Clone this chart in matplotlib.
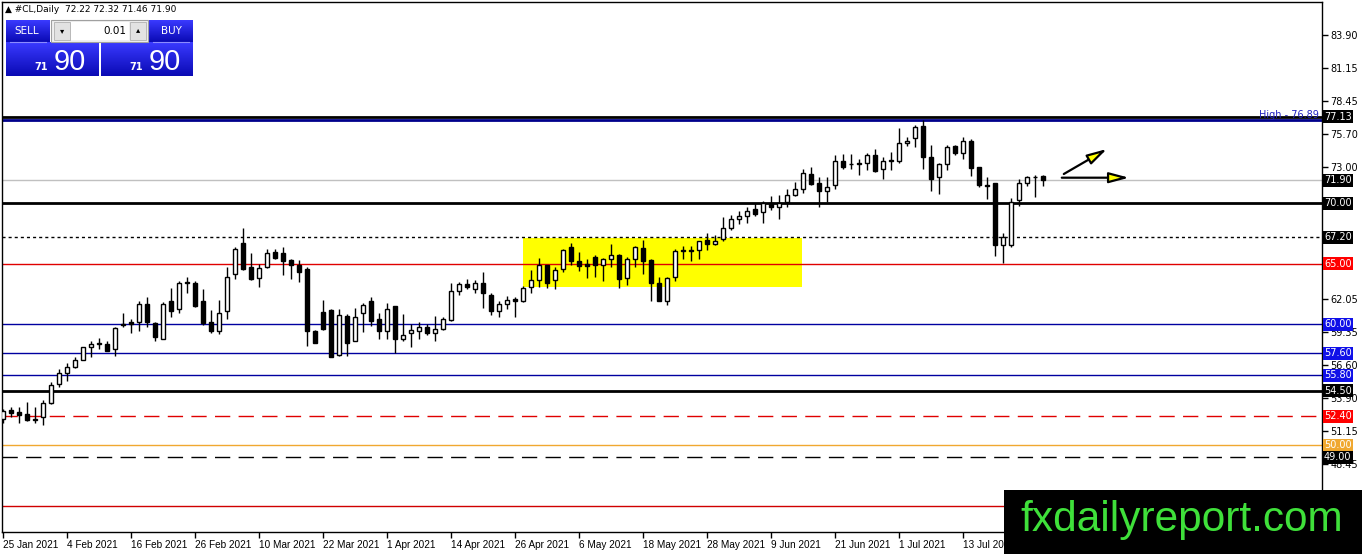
import numpy as np
import matplotlib.pyplot as plt
from matplotlib.patches import Rectangle, FancyArrowPatch

# daily OHLC of #CL, 25 Jan 2021 .. late Jul 2021
opens = [52.15, 52.9, 52.75, 52.6, 52.1, 52.35, 53.46, 55.05, 55.94, 56.43,
         57.04, 58.09, 58.4, 58.36, 57.92, 60.05, 60.2, 60.18, 61.67, 60.07,
         58.8, 61.89, 61.23, 63.5, 63.43, 61.89, 60.18, 59.46, 61.06, 64.15,
         66.68, 64.7, 63.79, 64.7, 65.96, 65.85, 65.3, 64.92, 64.58, 59.46,
         61.0, 61.17, 57.48, 60.67, 58.58, 60.89, 61.88, 60.4, 59.46, 61.5,
         58.75, 59.24, 59.46, 59.74, 59.3, 59.57, 60.34, 62.77, 63.32, 62.93,
         63.43, 62.38, 61.06, 61.66, 62.1, 61.95, 63.05, 63.65, 64.87, 63.65,
         64.54, 66.36, 65.2, 64.98, 65.53, 64.87, 65.42, 65.69, 63.82, 65.42,
         66.3, 65.31, 63.38, 61.89, 63.88, 66.05, 66.13, 66.13, 66.96, 66.6,
         67.02, 67.95, 68.72, 68.94, 69.5, 69.27, 70.04, 69.71, 70.1, 70.65,
         71.14, 72.41, 71.64, 71.03, 71.53, 73.46, 73.24, 73.3, 73.29, 74.0,
         72.8, 73.5, 73.46, 75.0, 75.39, 76.38, 73.79, 72.14, 73.24, 74.72,
         74.12, 75.11, 72.96, 71.47, 71.64, 66.57, 66.52, 70.26, 71.69, 72.19,
         72.22]
highs = [53.0, 53.2, 53.2, 53.57, 53.2, 53.73, 55.2, 56.27, 56.76, 57.3,
         58.14, 58.58, 58.86, 58.64, 59.74, 60.9, 60.4, 61.89, 62.27, 60.18,
         61.83, 62.99, 63.54, 63.87, 63.6, 62.88, 61.17, 62.0, 64.75, 66.35,
         67.95, 65.91, 65.0, 66.18, 66.18, 66.35, 65.41, 65.3, 64.7, 59.52,
         62.0, 61.28, 61.28, 60.84, 61.34, 61.77, 62.27, 60.95, 61.72, 61.5,
         60.84, 60.01, 60.18, 60.01, 60.67, 60.56, 63.43, 63.48, 63.76, 63.65,
         64.31, 62.55, 61.94, 62.33, 62.27, 63.16, 64.48, 65.47, 64.9, 64.7,
         66.25, 66.74, 65.97, 65.36, 65.69, 65.47, 66.63, 65.8, 65.53, 66.47,
         66.96, 65.36, 63.88, 63.9, 66.19, 66.47, 66.47, 66.9, 67.51, 67.35,
         68.83, 69.05, 69.33, 69.66, 70.0, 70.21, 70.59, 70.65, 71.2, 71.75,
         72.8, 73.02, 72.19, 72.14, 73.95, 74.06, 74.06, 73.62, 74.17, 74.45,
         73.84, 74.23, 76.21, 75.44, 76.43, 76.89, 74.83, 73.3, 74.78, 74.78,
         75.44, 75.33, 73.02, 72.19, 71.69, 67.56, 70.43, 71.97, 72.25, 72.3,
         72.32]
lows = [51.8, 52.3, 51.8, 52.0, 51.85, 51.64, 53.4, 54.78, 55.27, 56.38,
        57.04, 57.3, 57.98, 57.76, 57.37, 59.8, 59.3, 59.41, 59.74, 58.58,
        58.75, 60.62, 60.9, 62.6, 61.39, 59.9, 59.3, 59.19, 60.45, 63.76,
        64.48, 63.65, 63.1, 64.64, 65.41, 64.09, 63.76, 63.48, 58.19, 58.41,
        59.52, 57.26, 57.37, 57.37, 58.58, 59.35, 59.85, 58.8, 58.8, 57.59,
        58.58, 58.08, 58.75, 59.07, 58.58, 59.52, 60.29, 62.44, 62.93, 62.55,
        61.33, 60.73, 60.56, 61.28, 60.63, 61.84, 62.61, 63.05, 62.99, 62.88,
        64.32, 64.87, 64.43, 63.82, 63.93, 63.6, 64.76, 62.99, 63.27, 64.7,
        64.15, 61.95, 61.89, 61.56, 63.6, 65.36, 65.2, 65.42, 66.13, 66.52,
        66.85, 67.79, 68.28, 68.34, 68.94, 68.39, 69.44, 68.66, 69.66, 70.59,
        70.81, 71.47, 69.71, 70.1, 71.14, 72.8, 72.85, 72.3, 72.74, 72.58,
        71.97, 72.74, 73.35, 74.72, 74.67, 72.85, 71.03, 70.76, 72.74, 74.01,
        73.62, 72.25, 71.36, 70.37, 65.63, 65.08, 66.41, 69.77, 71.42, 70.48,
        71.46]
closes = [52.85, 52.7, 52.5, 52.1, 52.15, 53.46, 54.95, 55.94, 56.49, 57.04,
          58.09, 58.36, 58.42, 57.81, 59.68, 59.9, 60.05, 61.67, 60.18, 58.91,
          61.67, 61.12, 63.43, 63.4, 61.5, 60.12, 59.41, 60.95, 63.93, 66.19,
          64.59, 63.76, 64.64, 65.85, 65.47, 65.25, 64.86, 64.31, 59.46, 58.47,
          59.57, 57.31, 60.73, 58.41, 60.62, 61.55, 60.29, 59.4, 61.22, 58.75,
          59.13, 59.52, 59.74, 59.3, 59.57, 60.4, 62.71, 63.32, 63.04, 63.43,
          62.55, 61.06, 61.66, 61.99, 61.95, 62.99, 63.65, 64.87, 63.43, 64.48,
          66.13, 65.25, 64.81, 64.81, 64.87, 65.36, 65.69, 63.71, 65.42, 66.36,
          65.2, 63.38, 61.95, 63.82, 66.08, 66.1, 66.05, 66.85, 66.63, 66.85,
          67.95, 68.72, 68.94, 69.33, 69.11, 69.99, 69.71, 69.99, 70.7, 71.14,
          72.47, 71.58, 70.98, 71.36, 73.46, 73.02, 73.25, 73.22, 73.95, 72.63,
          73.46, 73.53, 74.95, 75.11, 76.32, 73.79, 72.03, 73.24, 74.61, 74.12,
          75.17, 72.91, 71.47, 71.4, 66.52, 67.23, 70.1, 71.64, 72.14, 72.14,
          71.90]

date_labels = ['25 Jan 2021', '4 Feb 2021', '16 Feb 2021', '26 Feb 2021',
               '10 Mar 2021', '22 Mar 2021', '1 Apr 2021', '14 Apr 2021',
               '26 Apr 2021', '6 May 2021', '18 May 2021', '28 May 2021',
               '9 Jun 2021', '21 Jun 2021', '1 Jul 2021', '13 Jul 2021']
price_ticks = [83.90, 81.15, 78.45, 75.70, 73.00, 62.05, 59.35, 56.60,
               53.90, 51.15, 48.45]

# horizontal levels drawn on the chart
levels = [77.13, 76.89, 71.90, 70.00, 67.20, 65.00, 60.00, 57.60, 55.80,
          54.50, 52.40, 50.00, 49.00, 45.00]
level_colors = ['black', '#00008b', '#c0c0c0', 'black', 'black', '#e00000',
                '#0000a0', '#0000a0', '#0000a0', 'black', '#e00000',
                '#f0a830', 'black', '#d00000']
level_widths = [2, 2, 1, 2, 1, 1, 1, 1, 1, 2, 1, 1, 1, 1]
level_styles = ['-', '-', '-', '-', (0, (2.2, 2.2)), '-', '-', '-', '-', '-',
                (0, (11, 6)), '-', (0, (11, 6)), '-']
level_boxes = ['black', None, 'black', 'black', 'black', '#ff0000', '#1010e8',
               '#1010e8', '#1010e8', 'black', '#ff0000', '#f0a830', 'black', None]

# yellow consolidation box (bar index / price)
zone_x = [64.96, 99.9]
zone_y = [63.05, 67.1]

# drawn arrows (bar index, price)
arrow_flat = [(132.0, 72.11), (141.1, 72.11)]
arrow_up = [(132.3, 72.3), (138.3, 74.6)]

W, H = 1362, 554
fig = plt.figure(figsize=(W / 100, H / 100), dpi=100)
ax = fig.add_axes([2 / W, 22 / H, 1320 / W, 530 / H])
ax.set_xlim(-0.125, 164.875)
ax.set_ylim(42.83, 86.63)

o = np.array(opens)
hi = np.array(highs)
lo = np.array(lows)
c = np.array(closes)
idx = np.arange(len(o))

ax.add_patch(Rectangle((zone_x[0], zone_y[0]), zone_x[1] - zone_x[0],
                       zone_y[1] - zone_y[0], color='#ffff00', zorder=1, lw=0))

for v, col, lw, ls, box in zip(levels, level_colors, level_widths,
                               level_styles, level_boxes):
    ax.axhline(v, color=col, lw=lw, ls=ls, zorder=2)
    if box:
        ax.text(1.0015, v, f'{v:.2f}', transform=ax.get_yaxis_transform(),
                ha='left', va='center', fontsize=7, color='white',
                bbox=dict(boxstyle='square,pad=0.15', fc=box, ec='none'),
                zorder=6, clip_on=False)

ax.text(0.998, levels[1], f'High - {levels[1]:.2f}', transform=ax.get_yaxis_transform(),
        ha='right', va='bottom', fontsize=7, color='#2020c0', zorder=5)

ax.vlines(idx, lo, hi, color='black', lw=1, zorder=3)
body = np.where(np.abs(c - o) < 0.04, 0.04, np.abs(c - o))
up = c >= o
ax.bar(idx[up], body[up], bottom=np.minimum(o, c)[up], width=0.6,
       color='white', edgecolor='black', lw=1, zorder=4)
ax.bar(idx[~up], body[~up], bottom=np.minimum(o, c)[~up], width=0.6,
       color='black', edgecolor='black', lw=1, zorder=4)

for a, b in (arrow_flat, arrow_up):
    ax.add_patch(FancyArrowPatch(a, b, arrowstyle='-|>,head_length=12,head_width=3.2',
                                 mutation_scale=1, fc='#ffff00', ec='black',
                                 lw=1.6, zorder=5))

ax.set_xticks(np.arange(0, 8 * len(date_labels), 8))
ax.set_xticklabels(date_labels, ha='left', fontsize=7.2, family='Liberation Sans')
ax.yaxis.tick_right()
ax.set_yticks(price_ticks)
ax.set_yticklabels([f'{p:.2f}' for p in price_ticks], fontsize=7)
ax.tick_params(direction='out', length=4, pad=2, width=1)
for s in ax.spines.values():
    s.set_linewidth(1)

# overlay in pixel coords for the terminal widgets and watermark
ov = fig.add_axes([0, 0, 1, 1], zorder=10)
ov.set_xlim(0, W)
ov.set_ylim(H, 0)
ov.axis('off')
ov.patch.set_alpha(0)

ov.text(5, 10, f'\u25b2 #CL,Daily  {opens[-1]:.2f} {highs[-1]:.2f} '
        f'{lows[-1]:.2f} {closes[-1]:.2f}', fontsize=6.5, va='center', ha='left')

for x0, y0, x1, y1 in [(6, 20, 50, 42), (6, 42, 99, 76), (149, 20, 193, 42),
                       (101, 42, 193, 76)]:
    grad = np.linspace(0, 1, 50).reshape(-1, 1)
    ov.imshow(grad, extent=(x0, x1, y1, y0), aspect='auto',
              cmap=plt.matplotlib.colors.LinearSegmentedColormap.from_list(
                  'b', ['#3a3aff', '#0a0ab4']), zorder=1)
ov.plot([10, 46], [42, 42], color='#8c8cff', lw=0.8, zorder=2)
ov.plot([153, 189], [42, 42], color='#8c8cff', lw=0.8, zorder=2)
ov.add_patch(Rectangle((51, 20), 97, 22, fc='#f0f0f0', ec='#a0a0a0', lw=0.8, zorder=2))
ov.add_patch(Rectangle((71, 22), 58, 18, fc='white', ec='none', zorder=3))
ov.add_patch(Rectangle((54, 22), 16, 18, fc='#e2e2e2', ec='#b0b0b0', lw=0.6, zorder=3))
ov.add_patch(Rectangle((130, 22), 16, 18, fc='#e2e2e2', ec='#b0b0b0', lw=0.6, zorder=3))
ov.text(62, 31, '\u25be', fontsize=6, ha='center', va='center', zorder=4)
ov.text(138, 30, '\u25b4', fontsize=6, ha='center', va='center', zorder=4)
ov.text(126, 31, '0.01', fontsize=7.5, ha='right', va='center', zorder=4)
ov.text(27, 31, 'SELL', fontsize=7.5, color='white', ha='center', va='center', zorder=4)
ov.text(171, 31, 'BUY', fontsize=7.5, color='white', ha='center', va='center', zorder=4)

big, small = f'{closes[-1]:.2f}'.split('.')
for xs, xb in [(48, 54), (143, 149)]:
    ov.text(xs, 70, big, fontsize=7, fontweight='bold', color='white',
            ha='right', va='baseline', zorder=4)
    ov.text(xb, 70.5, small, fontsize=21, color='white', family='Liberation Sans',
            ha='left', va='baseline', zorder=4)

ov.add_patch(Rectangle((1004, 490), 358, 64, fc='black', ec='none', zorder=5))
ov.text(1182, 520, 'fxdailyreport.com', fontsize=30.5, family='Liberation Sans',
        color='#3fe03a', ha='center', va='center', zorder=6)

fig.savefig('out.png', dpi=100)
